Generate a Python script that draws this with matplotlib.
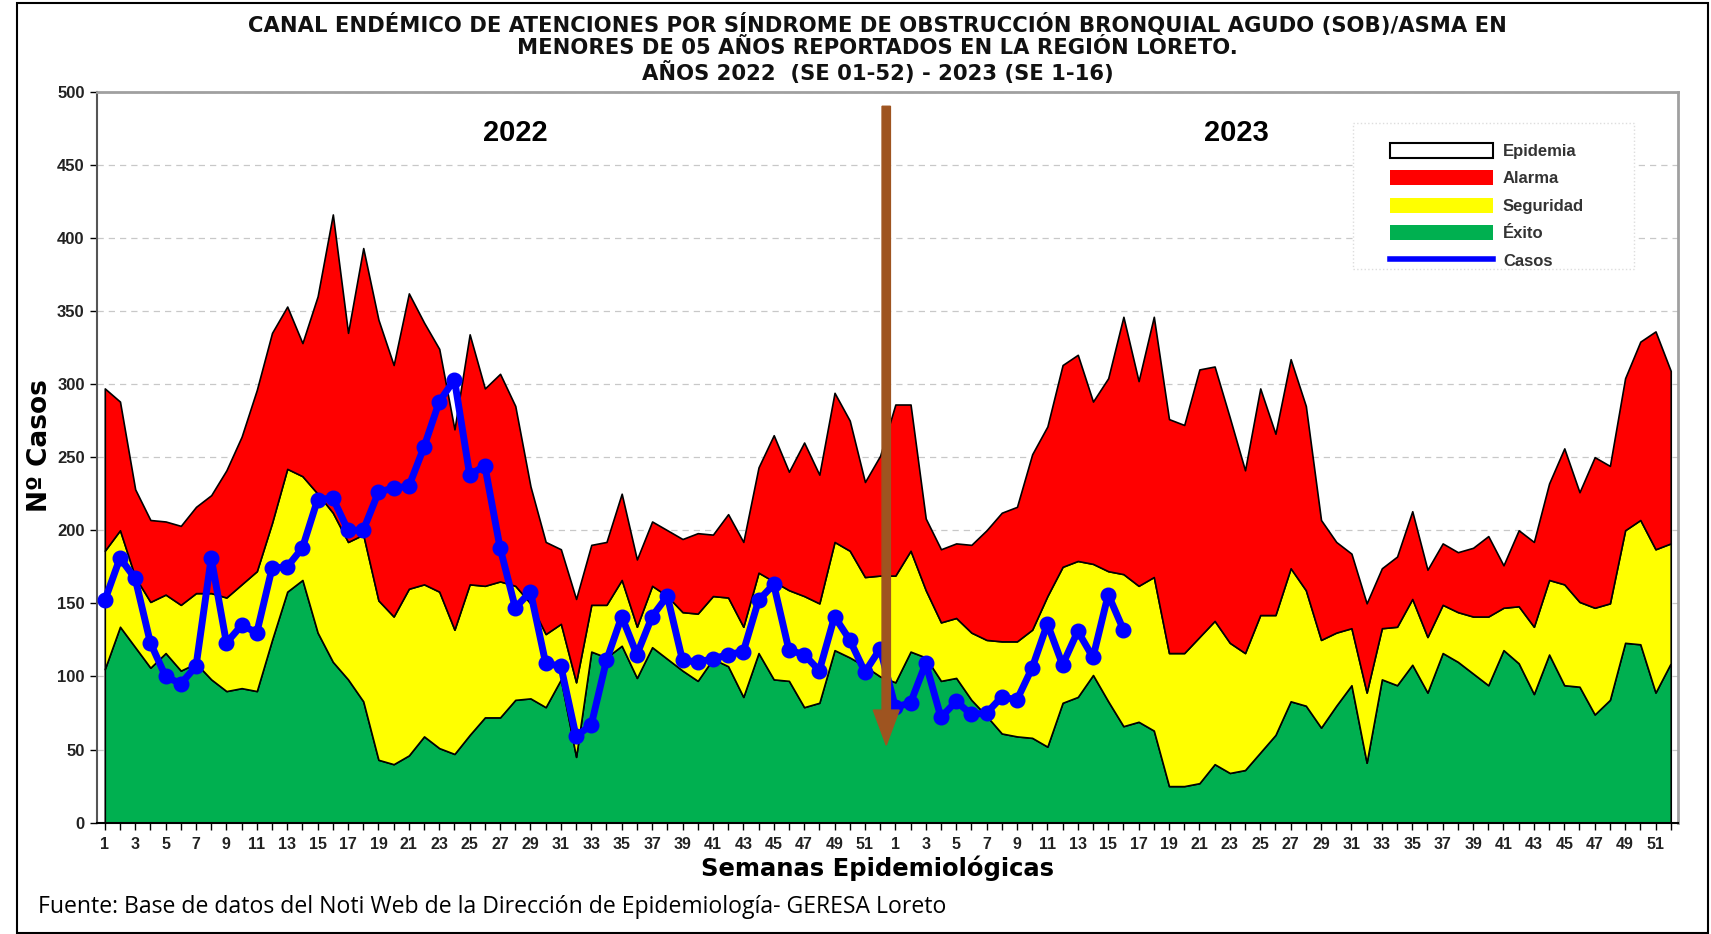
import matplotlib
matplotlib.use("Agg")
import matplotlib.pyplot as plt
import numpy as np
from matplotlib.patches import Patch, Rectangle
from matplotlib.lines import Line2D

plt.rcParams["font.family"] = ["Liberation Sans", "DejaVu Sans"]

# umbrales del canal endemico, SE 1-52 de 2022 y SE 1-52 de 2023
exito_2022 = [105, 134, 120, 106, 116, 104, 109, 98, 90, 92, 90, 125, 158, 166, 130, 110, 98, 83, 43, 40,
              46, 59, 51, 47, 60, 72, 72, 84, 85, 79, 98, 45, 117, 113, 121, 99, 120, 112, 104, 97,
              112, 107, 86, 116, 98, 97, 79, 82, 118, 113, 107, 100]
exito_2023 = [96, 117, 113, 97, 99, 84, 73, 61, 59, 58, 52, 82, 86, 101, 83, 66, 69, 63, 25, 25,
              27, 40, 34, 36, 48, 60, 83, 80, 65, 80, 94, 41, 98, 94, 108, 89, 116, 110, 102, 94,
              118, 109, 88, 115, 94, 93, 74, 84, 123, 122, 89, 109]
seguridad_2022 = [186, 200, 168, 151, 156, 149, 157, 157, 154, 163, 172, 205, 242, 237, 225, 212, 192, 197, 152, 141,
                  160, 163, 158, 132, 163, 162, 165, 162, 150, 129, 136, 96, 149, 149, 166, 134, 162, 155, 144, 143,
                  155, 154, 134, 171, 165, 159, 155, 150, 192, 186, 168, 169]
seguridad_2023 = [169, 186, 159, 137, 140, 130, 125, 124, 124, 132, 155, 175, 179, 177, 172, 170, 162, 168, 116, 116,
                  127, 138, 123, 116, 142, 142, 174, 159, 125, 130, 133, 89, 133, 134, 153, 127, 149, 144, 141, 141,
                  147, 148, 134, 166, 163, 151, 147, 150, 200, 207, 187, 191]
alarma_2022 = [297, 288, 228, 207, 206, 203, 216, 224, 241, 264, 296, 335, 353, 328, 360, 416, 335, 393, 344, 313,
               362, 342, 324, 269, 334, 297, 307, 285, 230, 192, 187, 153, 190, 192, 225, 180, 206, 200, 194, 198,
               197, 211, 192, 243, 265, 240, 260, 238, 294, 275, 233, 251]
alarma_2023 = [286, 286, 208, 187, 191, 190, 200, 212, 216, 252, 271, 313, 320, 288, 304, 346, 302, 346, 276, 272,
               310, 312, 277, 241, 297, 266, 317, 285, 207, 192, 184, 150, 174, 182, 213, 173, 191, 185, 188, 196,
               176, 200, 192, 232, 256, 226, 250, 244, 304, 329, 336, 309]

# casos notificados
casos_2022 = [152, 181, 167, 123, 100, 95, 107, 181, 123, 135, 130, 174, 175, 188, 221, 222, 200, 200, 226, 229,
              230, 257, 288, 303, 238, 244, 188, 147, 158, 109, 107, 59, 67, 111, 141, 115, 141, 155, 111, 110,
              112, 115, 117, 152, 163, 118, 115, 104, 141, 125, 103, 119]
casos_2023 = [79, 82, 109, 72, 83, 74, 75, 86, 84, 106, 136, 108, 131, 113, 156, 132]

semanas = list(range(1, 53)) + list(range(1, 53))

exito = np.array(exito_2022 + exito_2023)
seguridad = np.array(seguridad_2022 + seguridad_2023)
alarma = np.array(alarma_2022 + alarma_2023)
casos = np.array(casos_2022 + casos_2023)
x = np.arange(1, len(semanas) + 1)
xc = np.arange(1, len(casos) + 1)

VERDE = "#00B050"
AMARILLO = "#FFFF00"
ROJO = "#FF0000"
AZUL = "#0000FF"
ANCHA = ["DejaVu Sans"]

fig = plt.figure(figsize=(17.11, 9.34), dpi=100)
ax = fig.add_axes([0.0568, 0.1192, 0.9241, 0.7827])

ax.fill_between(x, 0, exito, facecolor=VERDE, edgecolor="black", lw=1.2, zorder=2)
ax.fill_between(x, exito, seguridad, facecolor=AMARILLO, edgecolor="black", lw=1.2, zorder=2)
ax.fill_between(x, seguridad, alarma, facecolor=ROJO, edgecolor="black", lw=1.2, zorder=2)
ax.plot(xc, casos, color=AZUL, lw=5, marker="o", ms=10.5, zorder=5)

# flecha de cambio de anio
ax.arrow(52.4, 490, 0, -437, width=0.55, head_width=1.7, head_length=24,
         length_includes_head=True, color="#9E5420", zorder=6)

ax.set_xlim(0.5, 104.5)
ax.set_ylim(0, 500)
ax.set_yticks(np.arange(0, 501, 50))
ax.set_xticks(x)
ax.set_xticklabels([str(s) if s % 2 == 1 else "" for s in semanas])
ax.tick_params(axis="x", length=5, width=1, pad=5, labelsize=11.5)
ax.tick_params(axis="y", length=5, width=1, pad=4, labelsize=12)
for lab in ax.get_xticklabels() + ax.get_yticklabels():
    lab.set_fontweight("bold")
    lab.set_color("#222222")

ax.set_axisbelow(True)
ax.yaxis.grid(True, linestyle=(0, (5, 4)), color="#C8C8C8", lw=0.9)
ax.spines["top"].set_color("#A0A0A0")
ax.spines["top"].set_linewidth(2)
ax.spines["right"].set_color("#A0A0A0")
ax.spines["right"].set_linewidth(2)
ax.spines["left"].set_color("#555555")
ax.spines["left"].set_linewidth(1.5)
ax.spines["bottom"].set_linewidth(1.5)

ax.text(28.0, 472, "2022", fontsize=21, fontweight="bold", ha="center", va="center")
ax.text(75.4, 472, "2023", fontsize=21, fontweight="bold", ha="center", va="center")

# leyenda
ax.add_patch(Rectangle((0.794, 0.757), 0.178, 0.200, transform=ax.transAxes, facecolor="white",
                       edgecolor="#DDDDDD", lw=1, linestyle=":", zorder=7))
handles = [
    Patch(facecolor="white", edgecolor="black", lw=1.5),
    Patch(facecolor=ROJO, edgecolor="none"),
    Patch(facecolor=AMARILLO, edgecolor="none"),
    Patch(facecolor=VERDE, edgecolor="none"),
    Line2D([0], [0], color=AZUL, lw=4),
]
etiquetas = ["Epidemia", "Alarma", "Seguridad", "Éxito", "Casos"]
leg = ax.legend(handles, etiquetas, loc="upper left", bbox_to_anchor=(0.810, 0.946), frameon=False,
                handlelength=6.2, handleheight=1.0, labelspacing=0.68, handletextpad=0.6,
                prop={"weight": "bold", "size": 12}, borderpad=0.2)
leg.set_zorder(8)
for t in leg.get_texts():
    t.set_color("#333333")

titulo = ["CANAL ENDÉMICO DE ATENCIONES POR SÍNDROME DE OBSTRUCCIÓN BRONQUIAL AGUDO (SOB)/ASMA EN",
          "MENORES DE 05 AÑOS REPORTADOS EN LA REGIÓN LORETO.",
          "AÑOS 2022  (SE 01-52) - 2023 (SE 1-16)"]
for i, linea in enumerate(titulo):
    fig.text(0.513, 1 - (22 + 22 * i) / 856, linea, ha="center", va="center", fontsize=15.2,
             fontweight="bold", color="#111111", family=ANCHA)

fig.text(0.513, 1 - 796 / 856, "Semanas Epidemiológicas", ha="center", va="center",
         fontsize=17.5, fontweight="bold", family=ANCHA)
fig.text(0.0235, 1 - 408 / 856, "Nº Casos", ha="center", va="center", rotation=90,
         fontsize=19, fontweight="bold", family=ANCHA)
fig.text(0.0223, 1 - 831 / 856, "Fuente: Base de datos del Noti Web de la Dirección de Epidemiología- GERESA Loreto",
         ha="left", va="center", fontsize=16.6, family=["Open Sans", "DejaVu Sans"])

# marco exterior
fig.add_artist(Rectangle((0.0102, 0.001), 0.988, 0.996, transform=fig.transFigure, fill=False,
                         edgecolor="black", lw=1.5))

fig.savefig("out.png", dpi=100)
